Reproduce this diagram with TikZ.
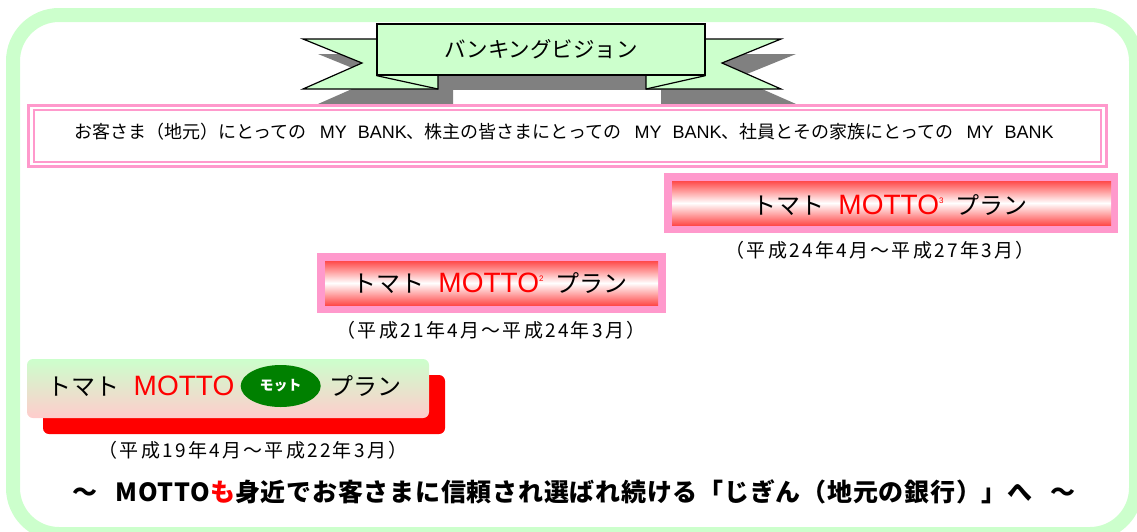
\documentclass[tikz,border=0pt]{standalone}
\usepackage{fontspec}
\setmainfont{Noto Sans CJK JP}
\newfontfamily\arialfont{Liberation Sans}
\newfontfamily\datefont{Noto Sans CJK JP}[LetterSpace=12]
\newfontfamily\slogfont{Noto Sans CJK JP}[LetterSpace=3]
\usepackage{xcolor}
\usepackage{tikz}
\usetikzlibrary{shapes.geometric}
\usetikzlibrary{positioning}
\definecolor{ribbongreen}{HTML}{CCFFCC}
\definecolor{framepink}{HTML}{FF99CC}
\definecolor{planred}{HTML}{FF4A4A}
\definecolor{planpink}{HTML}{FFCCCC}
\definecolor{shadowgray}{HTML}{808080}
\definecolor{motgreen}{HTML}{008000}
\newcommand{\fs}[1]{\fontsize{#1}{#1}\selectfont}
\newcommand{\motto}[1]{{\color{red}\arialfont\fs{28}MOTTO#1}}
\newcommand{\mybank}{\hspace{13pt}{\arialfont MY\hspace{11pt}BANK}}

\begin{document}
\begin{tikzpicture}[x=1pt, y=-1pt,
        plantext/.style={font=\fs{24}, inner sep=0pt},
        datetext/.style={font=\datefont\fs{19}, inner sep=0pt}]
        \useasboundingbox (0,0) rectangle (1137,531);
        \clip (0,0) rectangle (1137,531);
        \draw[ribbongreen, line width=14pt, rounded corners=46pt] (13,15) rectangle (1136,534);

        % ribbon shadow
        \begin{scope}[shift={(15,15)}]
            \fill[shadowgray] (303,39) -- (438,39) -- (438,89) -- (303,89) -- (362,63) -- cycle;
            \fill[shadowgray] (781,39) -- (646,39) -- (646,89) -- (781,89) -- (722,63) -- cycle;
            \fill[shadowgray] (378,24) rectangle (706,75);
        \end{scope}

        % ribbon
        \begin{scope}[line width = 1.2pt]
            \filldraw[color = black, fill = ribbongreen] (303,39) -- (438,39) -- (438,89) -- (303,89) -- (362,63) -- cycle;
            \filldraw[color = black, fill = ribbongreen] (781,39) -- (646,39) -- (646,89) -- (781,89) -- (722,63) -- cycle;
            \node[draw, fill = ribbongreen, minimum width = 328pt, minimum height = 51pt, inner sep = 0pt,
                font = \fs{21.5}] (vision) at (541,49.5) {バンキングビジョン};
            \draw (vision.south west) -- (438,89);
            \draw (vision.south east) -- (646,89);
        \end{scope}

        % MY BANK
        \draw[framepink, line width = 3pt] (28.5,105.5) rectangle (1106.5,166.5);
        \draw[framepink, line width = 2pt] (34,110) rectangle (1101,162);
        \node[font = \fs{18}, inner sep = 0pt] (mybank) at (564,132)
            {お客さま（地元）にとっての\mybank、株主の皆さまにとっての\mybank、社員とその家族にとっての\mybank};

        % MOTTO^3
        \fill[framepink] (664,173) rectangle (1118,233);
        \shade[top color = planred, bottom color = planred, middle color = white] (672,181) rectangle (1111,225);
        \node[plantext] (plan3) at (890,205)
            {トマト\hspace{14pt}\motto{\raisebox{11pt}{\fs{8}3}}\hspace{12pt}プラン};
        \node[datetext] (date3) at (880,250) {（平成24年4月～平成27年3月）};

        % MOTTO^2
        \fill[framepink] (317,253) rectangle (666,313);
        \shade[top color = planred, bottom color = planred, middle color = white] (325,261) rectangle (658,305);
        \node[plantext] (plan2) at (490,283)
            {トマト\hspace{14pt}\motto{\raisebox{11pt}{\fs{8}2}}\hspace{12pt}プラン};
        \node[datetext] (date2) at (491,330) {（平成21年4月～平成24年3月）};

        % MOTTO mot
        \fill[red, rounded corners = 6pt] (43,375) rectangle (445,434);
        \shade[top color = ribbongreen, bottom color = planpink, rounded corners = 6pt] (27,359) rectangle (429,418);
        \node[plantext] (plan1) at (141,386) {トマト\hspace{14pt}\motto{}};
        \node[ellipse, fill = motgreen, minimum width = 80pt, minimum height = 42pt, inner sep = 0pt,
            text = white, font = \bfseries\fs{14}, right = 6pt of plan1] (mot) {モット};
        \node[plantext, right = 8pt of mot] (plan1b) {プラン};
        \node[datetext] (date1) at (253,450) {（平成19年4月～平成22年3月）};

        \node[font = \slogfont\bfseries\fs{25}, inner sep = 0pt] (slogan) at (574,492)
            {～\hspace{18pt}MOTTO{\color{red}も}身近でお客さまに信頼され選ばれ続ける「じぎん（地元の銀行）」へ\hspace{18pt}～};
    \end{tikzpicture}
\end{document}
